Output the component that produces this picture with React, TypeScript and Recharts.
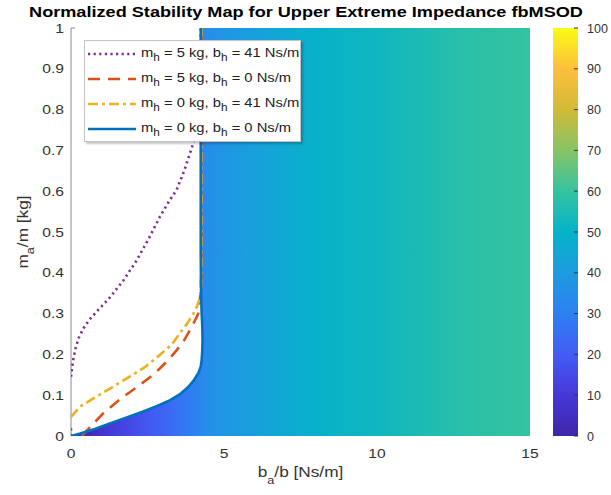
import React from 'react';
import { ComposedChart, Scatter, XAxis, YAxis, Legend } from 'recharts';

const FONT = '"Liberation Sans", Arial, Helvetica, sans-serif';

// axis ticks
const xTicks = [0, 5, 10, 15];
const yTicks = [0, 0.1, 0.2, 0.3, 0.4, 0.5, 0.6, 0.7, 0.8, 0.9, 1];
const cbTicks = [0, 10, 20, 30, 40, 50, 60, 70, 80, 90, 100];
const xMax = 15;
const yMax = 1;
const cbMax = 100;

// heat map (normalized stability value along b_a/b)
const heatX = [0, 0.5, 1, 1.5, 2, 2.5, 3, 3.5, 4, 4.5, 5, 6, 7, 8, 9, 10, 11, 12, 13, 14, 15];
const heatV = [0, 2, 7, 12, 15, 19, 22, 26, 30, 35, 38, 42, 46, 49, 51, 52, 54, 56, 58, 59, 60];

// colormap (parula)
const cmapV = [0, 10, 20, 30, 40, 50, 60, 70, 80, 90, 100];
const cmapC = ['#3e26a8', '#4638d8', '#435cf5', '#2e80f2', '#1d9be0', '#06b3c8', '#35c3a0', '#88c466', '#d2ba38', '#fdc03d', '#f9fb15'];

// curves
const blueX = [0, 0.3, 0.8, 1.27, 1.8, 2.36, 2.8, 3.24, 3.55, 3.83, 4.0, 4.16, 4.24, 4.27, 4.29, 4.3, 4.29, 4.27, 4.25, 4.24, 4.24];
const blueY = [0, 0.006, 0.018, 0.031, 0.045, 0.06, 0.073, 0.088, 0.102, 0.12, 0.135, 0.154, 0.17, 0.186, 0.21, 0.235, 0.27, 0.3, 0.35, 0.45, 1.0];

const yellowX = [0, 0.3, 0.73, 1.2, 1.82, 2.4, 2.91, 3.3, 3.56, 3.8, 4.0, 4.12, 4.22, 4.25, 4.26, 4.26];
const yellowY = [0.047, 0.072, 0.092, 0.113, 0.141, 0.168, 0.199, 0.225, 0.252, 0.276, 0.3, 0.318, 0.34, 0.37, 0.4, 1.0];

const orangeX = [0.35, 0.6, 1.06, 1.6, 2.25, 2.6, 2.91, 3.2, 3.45, 3.7, 3.89, 4.05, 4.16, 4.2, 4.24, 4.26, 4.26];
const orangeY = [0, 0.02, 0.056, 0.09, 0.125, 0.145, 0.166, 0.188, 0.21, 0.235, 0.26, 0.283, 0.3, 0.325, 0.36, 0.4, 1.0];

const purpleX = [0, 0.03, 0.08, 0.15, 0.25, 0.4, 0.6, 0.9, 1.22, 1.7, 2.15, 2.55, 2.91, 3.2, 3.45, 3.7, 3.89, 4.05, 4.18, 4.23, 4.24];
const purpleY = [0.145, 0.165, 0.19, 0.215, 0.24, 0.263, 0.285, 0.31, 0.335, 0.38, 0.431, 0.485, 0.538, 0.575, 0.603, 0.65, 0.693, 0.73, 0.77, 0.82, 1.0];
const purpleStubX = [0, 0];
const purpleStubY = [0, 0.02];

// legend
const legendMass = ['5', '5', '0', '0'];
const legendDamp = ['41', '0', '41', '0'];
const legendColor = ['#7E2F8E', '#D95319', '#EDB120', '#0072BD'];
const legendDash = ['2.2 3.4', '12 8', '10 4 3 4', ''];
const legendWidth = [2.6, 2.6, 2.6, 2.6];

const zip = (xs: number[], ys: number[]) => xs.map((x, i) => ({ x, y: ys[i] }));
const blue = zip(blueX, blueY);
const yellow = zip(yellowX, yellowY);
const orange = zip(orangeX, orangeY);
const purple = zip(purpleX, purpleY);
const purpleStub = zip(purpleStubX, purpleStubY);
const heatPoly = [...blue, { x: xMax, y: yMax }, { x: xMax, y: 0 }, { x: 0, y: 0 }];
const cbRect = [{ x: 0, y: 0 }, { x: 1, y: 0 }, { x: 1, y: cbMax }, { x: 0, y: cbMax }, { x: 0, y: 0 }];

const hex = (h: string) => [1, 3, 5].map((i) => parseInt(h.slice(i, i + 2), 16));
const cmap = (v: number) => {
  let i = 0;
  while (i < cmapV.length - 2 && v > cmapV[i + 1]) i++;
  const t = Math.max(0, Math.min(1, (v - cmapV[i]) / (cmapV[i + 1] - cmapV[i])));
  const a = hex(cmapC[i]);
  const b = hex(cmapC[i + 1]);
  const c = a.map((av, k) => Math.round(av + (b[k] - av) * t));
  return `rgb(${c[0]},${c[1]},${c[2]})`;
};

const noShape = () => <g />;

const fmt = (v: number) => String(+v.toFixed(1));

const YTick = (p: any) => {
  const { x, y, payload } = p;
  return (
    <g>
      {payload.value === yMax && <line x1={x} x2={x + 4} y1={y} y2={y} stroke="#8a8a8a" strokeWidth={1} />}
      <text transform={`translate(${x - 7},${y + 4.5}) scale(1.2,1)`} textAnchor="end" fontSize={13} fontFamily={FONT} fill="#333">
        {fmt(payload.value)}
      </text>
    </g>
  );
};

const XTick = (p: any) => {
  const { x, y, payload } = p;
  return (
    <text transform={`translate(${x},${y + 21.5}) scale(1.2,1)`} textAnchor="middle" fontSize={13} fontFamily={FONT} fill="#333">
      {payload.value}
    </text>
  );
};

const CbTick = (p: any) => {
  const { x, y, payload } = p;
  return (
    <text x={x + 9} y={y + 4.5} textAnchor="start" fontSize={12.5} fontFamily={FONT} fill="#333">
      {payload.value}
    </text>
  );
};

const LegendBox = () => (
  <div
    style={{
      width: 217,
      height: 102,
      background: '#fff',
      border: '1px solid #c4c4c4',
      boxShadow: '2px 2px 2px rgba(0,0,0,0.22)',
      boxSizing: 'border-box',
      position: 'relative',
      fontFamily: FONT,
      color: '#222',
    }}
  >
    {legendMass.map((m, i) => (
      <div key={i} style={{ position: 'absolute', left: 0, top: 3 + i * 25.1, height: 20, width: 215 }}>
        <svg width={52} height={20} style={{ position: 'absolute', left: 2, top: 0 }}>
          <line x1={1} y1={10} x2={49} y2={10} stroke={legendColor[i]} strokeWidth={legendWidth[i]} strokeDasharray={legendDash[i] || undefined} />
        </svg>
        <div
          style={{
            position: 'absolute',
            left: 56,
            top: 2,
            fontSize: 12.5,
            lineHeight: '14px',
            whiteSpace: 'nowrap',
            transform: 'scaleX(1.18)',
            transformOrigin: 'left center',
          }}
        >
          m<span style={{ fontSize: 10, position: 'relative', top: 4 }}>h</span> = {m} kg, b
          <span style={{ fontSize: 10, position: 'relative', top: 4 }}>h</span> = {legendDamp[i]} Ns/m
        </div>
      </div>
    ))}
  </div>
);

export default function App() {
  return (
    <div style={{ position: 'absolute', left: 0, top: 0, width: 611, height: 495, background: '#fff' }}>
      <div style={{ position: 'absolute', left: 0, top: 0 }}>
        <ComposedChart width={611} height={495} margin={{ top: 28, right: 81, bottom: 0, left: 0 }}>
          <defs>
            <linearGradient id="heat" x1="0" y1="0" x2="1" y2="0">
              {heatX.map((x, i) => (
                <stop key={i} offset={x / xMax} stopColor={cmap(heatV[i])} />
              ))}
            </linearGradient>
          </defs>
          <text transform="translate(306,17.3) scale(1.17,1)" textAnchor="middle" fontSize={15.5} fontWeight="bold" fontFamily={FONT} fill="#000">
            Normalized Stability Map for Upper Extreme Impedance fbMSOD
          </text>
          <XAxis
            type="number"
            dataKey="x"
            domain={[0, xMax]}
            ticks={xTicks}
            height={59}
            axisLine={false}
            tickLine={false}
            tickSize={0}
            tickMargin={0}
            tick={<XTick />}
            allowDataOverflow
            label={(props: any) => {
              const vb = props.viewBox;
              const cx = vb.x + vb.width / 2;
              return (
                <text transform={`translate(${cx},477) scale(1.15,1)`} textAnchor="middle" fontSize={15} fontFamily={FONT} fill="#333">
                  b<tspan fontSize={11} dy={7}>a</tspan>
                  <tspan dy={-7}>/b [Ns/m]</tspan>
                </text>
              );
            }}
          />
          <YAxis
            type="number"
            dataKey="y"
            domain={[0, yMax]}
            ticks={yTicks}
            width={71}
            axisLine={{ stroke: '#8a8a8a', strokeWidth: 1 }}
            tickLine={false}
            tickSize={0}
            tickMargin={0}
            tick={<YTick />}
            allowDataOverflow
            label={(props: any) => {
              const vb = props.viewBox;
              const cy = vb.y + vb.height / 2;
              return (
                <text transform={`translate(28,${cy}) rotate(-90) scale(1.15,1)`} textAnchor="middle" fontSize={15} fontFamily={FONT} fill="#333">
                  m<tspan fontSize={11} dy={6}>a</tspan>
                  <tspan dy={-6}>/m [kg]</tspan>
                </text>
              );
            }}
          />
          <Scatter
            name="heat"
            data={heatPoly}
            shape={noShape}
            line={{ stroke: 'none', fill: 'url(#heat)' }}
            lineType="joint"
            isAnimationActive={false}
          />
          <Scatter name="p0" data={purpleStub} shape={noShape} line={{ stroke: legendColor[0], strokeWidth: legendWidth[0], strokeDasharray: legendDash[0] }} isAnimationActive={false} />
          <Scatter name="p" data={purple} shape={noShape} line={{ stroke: legendColor[0], strokeWidth: legendWidth[0], strokeDasharray: legendDash[0] }} isAnimationActive={false} />
          <Scatter name="o" data={orange} shape={noShape} line={{ stroke: legendColor[1], strokeWidth: legendWidth[1], strokeDasharray: legendDash[1] }} isAnimationActive={false} />
          <Scatter name="y" data={yellow} shape={noShape} line={{ stroke: legendColor[2], strokeWidth: legendWidth[2], strokeDasharray: legendDash[2] }} isAnimationActive={false} />
          <Scatter name="b" data={blue} shape={noShape} line={{ stroke: legendColor[3], strokeWidth: legendWidth[3] }} isAnimationActive={false} />
          <Legend
            layout="vertical"
            align="center"
            verticalAlign="middle"
            content={() => <LegendBox />}
            wrapperStyle={{ position: 'absolute', left: 84, top: 40, width: 217, height: 102, margin: 0, padding: 0 }}
          />
        </ComposedChart>
      </div>
      <div style={{ position: 'absolute', left: 553, top: 0 }}>
        <ComposedChart width={58} height={495} margin={{ top: 28, right: 0, bottom: 59, left: 0 }}>
          <defs>
            <linearGradient id="cbar" x1="0" y1="1" x2="0" y2="0">
              {cmapV.map((v, i) => (
                <stop key={i} offset={v / cbMax} stopColor={cmapC[i]} />
              ))}
            </linearGradient>
          </defs>
          <XAxis type="number" dataKey="x" domain={[0, 1]} hide />
          <Scatter data={cbRect} shape={noShape} line={{ stroke: 'none', fill: 'url(#cbar)' }} lineType="joint" isAnimationActive={false} />
          {cbTicks.map((v) => (
            <Scatter
              key={v}
              data={[{ x: 0.84, y: v }, { x: 1, y: v }]}
              shape={noShape}
              line={{ stroke: '#333', strokeWidth: 1 }}
              lineType="joint"
              isAnimationActive={false}
            />
          ))}
          <YAxis
            type="number"
            dataKey="y"
            orientation="right"
            domain={[0, cbMax]}
            ticks={cbTicks}
            width={33}
            axisLine={false}
            tickLine={false}
            tickSize={0}
            tickMargin={0}
            tick={<CbTick />}
          />
        </ComposedChart>
      </div>
    </div>
  );
}
